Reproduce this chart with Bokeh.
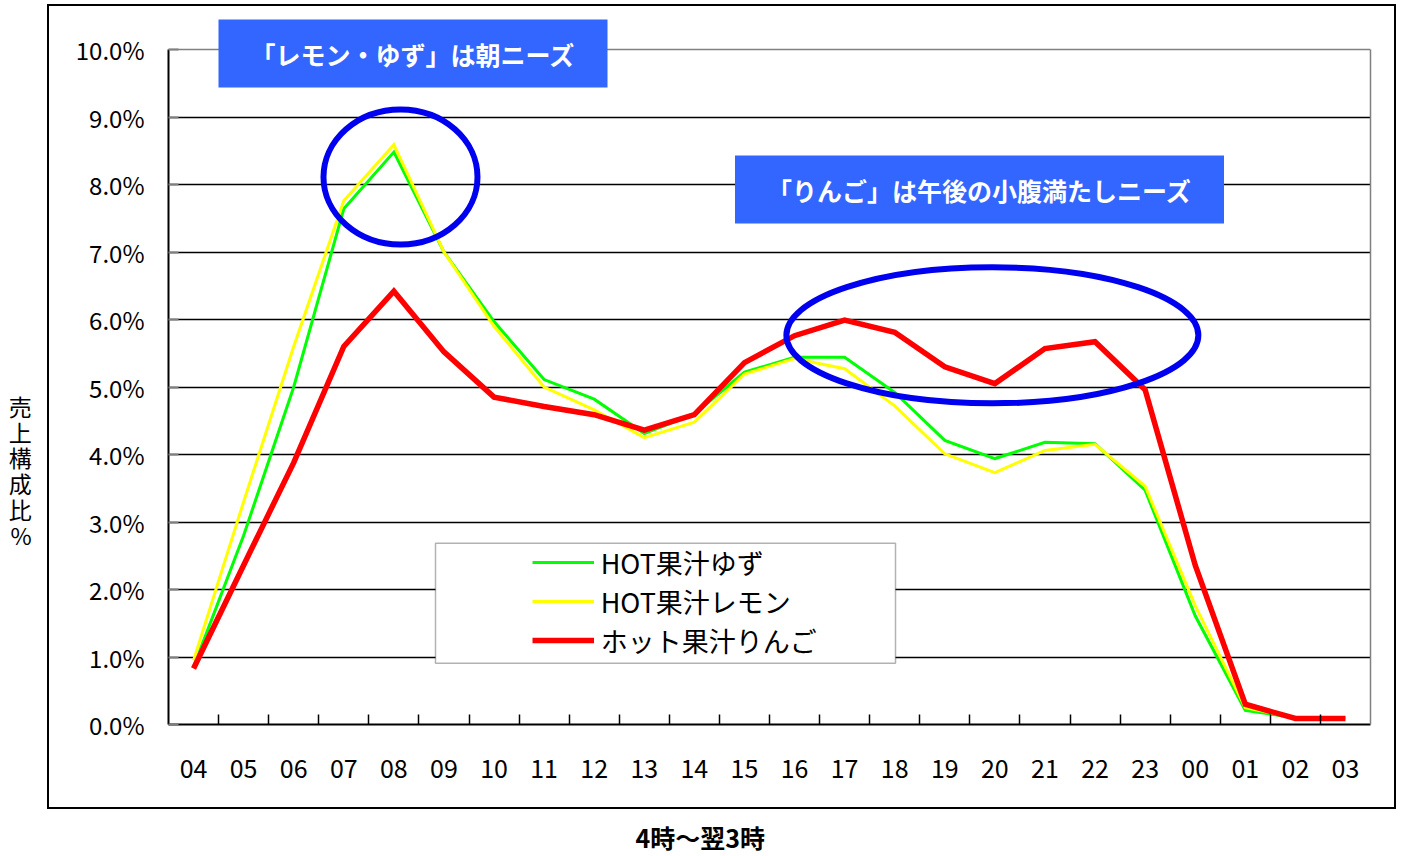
from bokeh.plotting import figure
from bokeh.models import (Range1d, LinearAxis, FixedTicker, PrintfTickFormatter, Label, Title,
                          BoxAnnotation, Legend, LegendItem, ColumnDataSource, Grid,
                          InlineStyleSheet)
from bokeh.embed import file_html
from bokeh.resources import INLINE

# ---------------- data ----------------
hours = ["04", "05", "06", "07", "08", "09", "10", "11", "12", "13", "14", "15",
         "16", "17", "18", "19", "20", "21", "22", "23", "00", "01", "02", "03"]
yuzu = [0.85, 2.80, 5.00, 7.64, 8.48, 7.00, 5.97, 5.11, 4.82, 4.31, 4.60, 5.22,
        5.44, 5.44, 4.92, 4.21, 3.94, 4.18, 4.16, 3.47, 1.61, 0.21, 0.10, 0.10]
lemon = [0.95, 3.30, 5.60, 7.76, 8.59, 7.00, 5.90, 5.00, 4.66, 4.25, 4.48, 5.19,
         5.42, 5.27, 4.72, 4.01, 3.73, 4.06, 4.15, 3.53, 1.76, 0.25, 0.10, 0.10]
apple = [0.83, 2.36, 3.88, 5.60, 6.42, 5.52, 4.85, 4.71, 4.59, 4.36, 4.59, 5.36,
         5.76, 5.99, 5.81, 5.30, 5.05, 5.57, 5.67, 4.96, 2.36, 0.30, 0.09, 0.09]
series_names = ["HOT果汁ゆず", "HOT果汁レモン", "ホット果汁りんご"]
y_ticks = [0, 1, 2, 3, 4, 5, 6, 7, 8, 9, 10]
y_label = "売上構成比%"
x_label = "4時〜翌3時"
note_morning = "「レモン・ゆず」は朝ニーズ"
note_afternoon = "「りんご」は午後の小腹満たしニーズ"

FONT = "Noto Sans CJK JP"
x = [i + 0.5 for i in range(len(hours))]

# ---------------- layout ----------------
W, H = 1400, 856
FRAME_L, FRAME_R, FRAME_T, FRAME_B = 168, 1370, 9, 724
PX_PER_PCT = 67.5
y_top = 10 + (49 - FRAME_T) / PX_PER_PCT

css = InlineStyleSheet(css="""
:host { position: relative; }
:host::after { content: ""; position: absolute; left: 47px; top: 4px; width: 1349px; height: 805px;
  border: 2px solid black; box-sizing: border-box; pointer-events: none; }
""")

p = figure(width=W, height=H, output_backend="svg", toolbar_location=None,
           x_range=Range1d(0, len(hours)), y_range=Range1d(0, y_top),
           x_axis_location=None, y_axis_location=None,
           min_border_left=FRAME_L, min_border_right=W - FRAME_R,
           min_border_top=FRAME_T, min_border_bottom=H - FRAME_B,
           background_fill_color="white", border_fill_color="white")
p.stylesheets = [css]
p.outline_line_color = None
for g in p.grid:
    g.visible = False

p.add_layout(Grid(dimension=1, ticker=FixedTicker(ticks=y_ticks[1:-1]),
                  grid_line_color="black", grid_line_width=1.5))
p.add_layout(Grid(dimension=1, ticker=FixedTicker(ticks=[y_ticks[-1]]),
                  grid_line_color="#808080", grid_line_width=1.5))

yax = LinearAxis(ticker=FixedTicker(ticks=y_ticks), formatter=PrintfTickFormatter(format="%.1f%%"),
                 bounds=(0, 10),
                 major_tick_in=10, major_tick_out=0, major_tick_line_color="#808080",
                 major_tick_line_width=2, minor_tick_line_color=None,
                 axis_line_color="black", axis_line_width=2,
                 major_label_text_font=FONT, major_label_text_font_size="24px",
                 major_label_standoff=24, major_label_text_color="black",
                 axis_label="\n" * 8 + "\n".join(list(y_label)),
                 axis_label_orientation="horizontal", axis_label_standoff=41,
                 axis_label_text_font=FONT, axis_label_text_font_size="23px",
                 axis_label_text_font_style="normal", axis_label_text_line_height=0.76,
                 axis_label_text_color="black")
p.add_layout(yax, "left")

rax = LinearAxis(ticker=FixedTicker(ticks=[]), bounds=(0, 10),
                 major_tick_line_color=None, minor_tick_line_color=None,
                 major_label_text_font_size="0px", major_label_standoff=0,
                 axis_line_color="#808080", axis_line_width=1.5)
p.add_layout(rax, "right")

xax = LinearAxis(ticker=FixedTicker(ticks=x, minor_ticks=list(range(1, len(hours)))),
                 major_label_overrides={xi: h for xi, h in zip(x, hours)},
                 major_tick_line_color=None, major_tick_in=0, major_tick_out=0,
                 minor_tick_in=10, minor_tick_out=0, minor_tick_line_color="black",
                 minor_tick_line_width=1.5,
                 axis_line_color="black", axis_line_width=2,
                 major_label_text_font=FONT, major_label_text_font_size="25px",
                 major_label_standoff=34, major_label_text_color="black")
p.add_layout(xax, "below")

p.add_layout(Title(text="\n" + x_label, align="left", offset=467, standoff=0,
                   text_font=FONT, text_font_size="25px", text_font_style="bold",
                   text_line_height=1.0, text_color="black"), "below")

src = ColumnDataSource(dict(x=x, yuzu=yuzu, lemon=lemon, apple=apple))
r1 = p.line("x", "yuzu", source=src, line_color="#00FF00", line_width=3, line_join="miter")
r2 = p.line("x", "lemon", source=src, line_color="#FFFF00", line_width=3, line_join="miter")
r3 = p.line("x", "apple", source=src, line_color="#FF0000", line_width=5.5, line_join="miter")

# highlight ellipses
p.ellipse(x=[4.632, 16.45], y=[8.111, 5.766], width=[3.075, 8.226], height=[2.0, 2.015],
          fill_color=None, line_color="#0000F0", line_width=6)

# legend box + legend
p.add_layout(BoxAnnotation(left=5.331, right=14.516, bottom=0.908, top=2.686,
                           fill_color="white", fill_alpha=1, line_color="black", line_width=1.5))
legend = Legend(items=[LegendItem(label=n, renderers=[r]) for n, r in zip(series_names, [r1, r2, r3])],
                location=(363.7, 64.5), glyph_width=62, glyph_height=30, label_height=30,
                spacing=0, padding=0, margin=0, label_standoff=7,
                border_line_color=None, background_fill_alpha=0,
                label_text_font=FONT, label_text_font_size="27px", label_text_color="black")
p.add_layout(legend)

# callout boxes
for tx, lx, ly in [(note_morning, 244.5, 671), (note_afternoon, 811, 535)]:
    p.add_layout(Label(x=lx, y=ly, x_units="screen", y_units="screen", text=tx,
                       text_font=FONT, text_font_size="25px", text_font_style="bold",
                       text_color="white", text_align="center", text_baseline="middle",
                       background_fill_color="#3366FF", background_fill_alpha=1,
                       padding=(32, 16)))

open("out.html", "w").write(file_html(p, INLINE))
